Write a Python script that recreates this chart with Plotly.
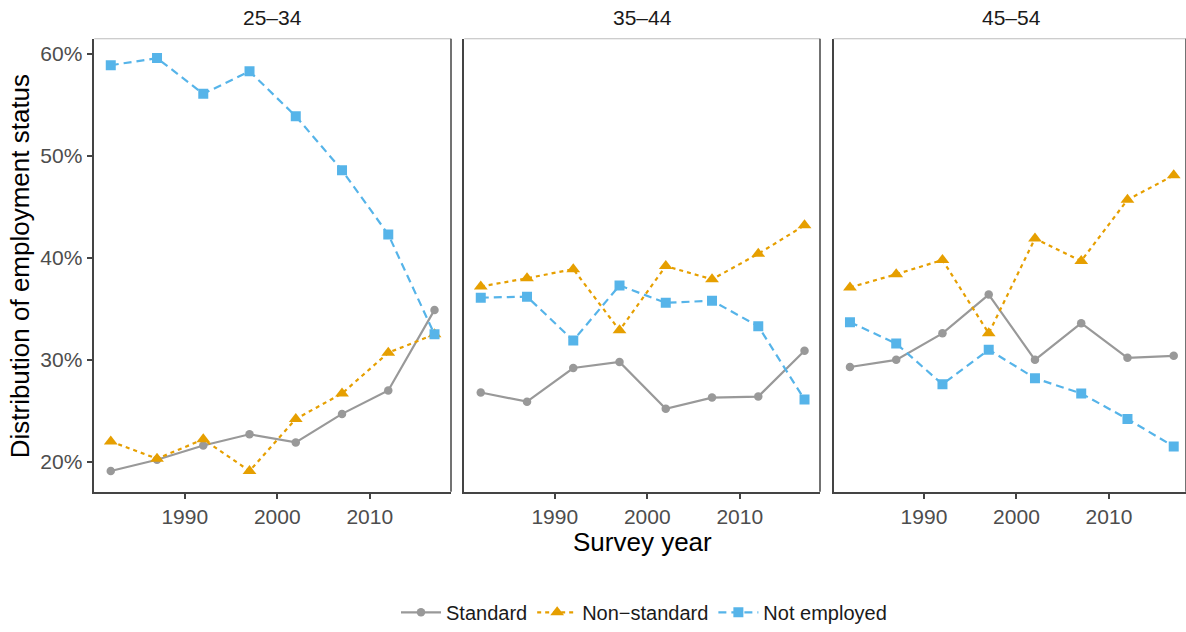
import plotly.graph_objects as go

years = [1982, 1987, 1992, 1997, 2002, 2007, 2012, 2017]
age_groups = ["25–34", "35–44", "45–54"]
series_names = ["Standard", "Non\u2212standard", "Not employed"]

standard_25_34 = [19.1, 20.2, 21.6, 22.7, 21.9, 24.7, 27.0, 34.9]
nonstandard_25_34 = [22.0, 20.3, 22.2, 19.1, 24.2, 26.7, 30.7, 32.5]
notemployed_25_34 = [58.9, 59.6, 56.1, 58.3, 53.9, 48.6, 42.3, 32.5]

standard_35_44 = [26.8, 25.9, 29.2, 29.8, 25.2, 26.3, 26.4, 30.9]
nonstandard_35_44 = [37.2, 38.0, 38.9, 32.9, 39.2, 37.9, 40.4, 43.2]
notemployed_35_44 = [36.1, 36.2, 31.9, 37.3, 35.6, 35.8, 33.3, 26.1]

standard_45_54 = [29.3, 30.0, 32.6, 36.4, 30.0, 33.6, 30.2, 30.4]
nonstandard_45_54 = [37.1, 38.4, 39.8, 32.6, 41.9, 39.7, 45.7, 48.1]
notemployed_45_54 = [33.7, 31.6, 27.6, 31.0, 28.2, 26.7, 24.2, 21.5]

y_ticks = [20, 30, 40, 50, 60]
y_ticklabels = ["20%", "30%", "40%", "50%", "60%"]
x_ticks = [1990, 2000, 2010]

panels = [
    (standard_25_34, nonstandard_25_34, notemployed_25_34),
    (standard_35_44, nonstandard_35_44, notemployed_35_44),
    (standard_45_54, nonstandard_45_54, notemployed_45_54),
]

colors = ["#999999", "#E69F00", "#56B4E9"]
symbols = ["circle", "triangle-up", "square"]
msizes = [8.5, 12, 10]
dashes = ["solid", "4px,4px", "8px,5px"]

W, H = 1186, 632
FONT = "Liberation Sans, Arial, Helvetica, sans-serif"

# panel pixel extents
px_left = [94.3, 464.3, 833.5]
px_right = [451.0, 820.0, 1186.0]
y_bot_px, y_top_px = 495.0, 39.0
x0 = 1980.22
ppy = 9.25  # pixels per year

fig = go.Figure()
for p, vals in enumerate(panels):
    ax = "" if p == 0 else str(p + 1)
    for s in range(3):
        fig.add_trace(go.Scatter(
            x=years, y=vals[s], mode="lines+markers",
            name=series_names[s], legendgroup=series_names[s],
            showlegend=(p == 0),
            line=dict(color=colors[s], width=2.2, dash=dashes[s]),
            marker=dict(color=colors[s], symbol=symbols[s], size=msizes[s]),
            xaxis="x" + ax, yaxis="y" + ax,
        ))

layout = dict(
    width=W, height=H,
    margin=dict(l=0, r=0, t=0, b=0),
    paper_bgcolor="white", plot_bgcolor="white",
    font=dict(family=FONT, color="#1a1a1a"),
    showlegend=True,
    legend=dict(orientation="h", x=0.543, xanchor="center", y=0.025, yanchor="middle",
                font=dict(size=20, color="#1a1a1a"), itemwidth=40,
                bgcolor="rgba(0,0,0,0)"),
)

shapes = []
annotations = []
ydom = [(H - y_bot_px) / H, (H - y_top_px) / H]
for p in range(3):
    ax = "" if p == 0 else str(p + 1)
    dom = [px_left[p] / W, px_right[p] / W]
    xr = [x0, x0 + (px_right[p] - px_left[p]) / ppy]
    layout["xaxis" + ax] = dict(
        domain=dom, range=xr, tickvals=x_ticks, ticks="outside", ticklen=5,
        tickwidth=1.5, tickcolor="#444444", showline=True, linecolor="#444444",
        linewidth=1.5, showgrid=False, zeroline=False,
        tickfont=dict(size=21, color="#4d4d4d"), anchor="y" + ax,
    )
    yax = dict(
        domain=ydom, range=[17.05, 61.5], tickvals=y_ticks, ticktext=y_ticklabels,
        showgrid=False, zeroline=False, anchor="x" + ax,
        showline=True, linecolor="#444444", linewidth=1.5,
    )
    if p == 0:
        yax.update(ticks="outside", ticklen=6, tickwidth=1.5, tickcolor="#444444",
                   tickfont=dict(size=21, color="#4d4d4d"), showticklabels=True)
    else:
        yax.update(ticks="", showticklabels=False)
    layout["yaxis" + ax] = yax
    xd = "x" + ax + " domain"
    yd = "y" + ax + " domain"
    shapes.append(dict(type="line", xref=xd, yref=yd, x0=0, x1=1, y0=1, y1=1,
                       line=dict(color="#bdbdbd", width=1.2)))
    shapes.append(dict(type="line", xref=xd, yref=yd, x0=1, x1=1, y0=0, y1=1,
                       line=dict(color="#444444", width=1.5)))
    annotations.append(dict(text=age_groups[p], xref="paper", yref="paper",
                            x=(px_left[p] + 178.3) / W, y=(H - 18) / H,
                            showarrow=False, font=dict(size=21, color="#1a1a1a"),
                            xanchor="center", yanchor="middle"))

annotations.append(dict(text="Survey year", xref="paper", yref="paper",
                        x=642 / W, y=(H - 545) / H, showarrow=False,
                        font=dict(size=26, color="black"), xanchor="center", yanchor="middle"))
annotations.append(dict(text="Distribution of employment status", xref="paper", yref="paper",
                        x=20 / W, y=(H - 268) / H, showarrow=False, textangle=-90,
                        font=dict(size=26, color="black"), xanchor="center", yanchor="middle"))

layout["shapes"] = shapes
layout["annotations"] = annotations
fig.update_layout(**layout)
fig.write_html("out.html", config={"displayModeBar": False},
               post_script="document.body.style.margin='0';document.body.style.overflow='hidden';")
